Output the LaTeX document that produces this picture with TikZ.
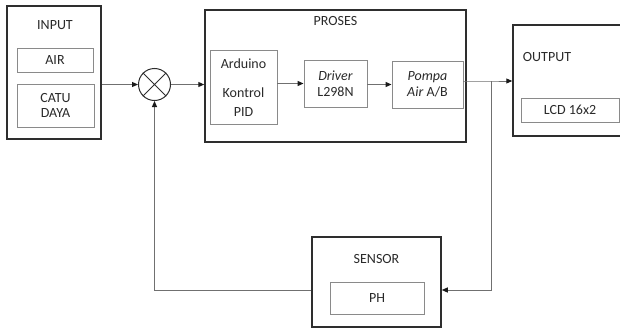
\documentclass[tikz,border=0pt]{standalone}
\usepackage{fontspec}
\setmainfont{Carlito}
\usetikzlibrary{arrows.meta}
\definecolor{txt}{HTML}{2A2A2A}
\definecolor{outerc}{HTML}{2E2E2E}
\definecolor{innerc}{HTML}{8A8A8A}
\definecolor{linec}{HTML}{707070}
\definecolor{tipc}{HTML}{1A1A1A}
\tikzset{
  x=1pt, y=-1pt,
  every node/.style={font=\fontsize{14}{16.5}\selectfont, text=txt},
  outerbox/.style={draw=outerc, line width=1.5pt, inner sep=0pt},
  innerbox/.style={draw=innerc, line width=0.9pt, inner sep=0pt, align=center},
  conn/.style={draw=linec, line width=1pt},
  arr/.style={conn, -{Triangle[length=6pt,width=5pt,color=tipc]}},
}
\begin{document}
\begin{tikzpicture}
\useasboundingbox (0,0) rectangle (620,329);
\fill[white] (0,0) rectangle (620,329);

% input block
\node[outerbox, minimum width=94pt, minimum height=133pt] (input) at (54,72.5) {};
\node (inputlbl) at (55,25) {INPUT};
\node[innerbox, minimum width=76pt, minimum height=24pt] (air) at (55,60) {AIR};
\node[innerbox, minimum width=77pt, minimum height=43pt] (catu) at (55.5,105.5) {CATU\\[-1pt]DAYA};

% summing junction
\node[draw=outerc, line width=1pt, circle, minimum size=32pt, inner sep=0pt] (sum) at (154.5,84.5) {};
\draw[outerc, line width=1pt] (sum.north west) -- (sum.south east)
                              (sum.north east) -- (sum.south west);

% process block
\node[outerbox, minimum width=261pt, minimum height=132pt] (proses) at (335.5,76) {};
\node (proseslbl) at (335.5,21) {PROSES};
\node[innerbox, minimum width=67pt, minimum height=74pt] (ard) at (243.5,87) {};
\node (ard1) at (243.5,64) {Arduino};
\node (ard2) at (243.5,93) {Kontrol};
\node (ard3) at (243.5,112) {PID};
\node[innerbox, minimum width=63pt, minimum height=47pt] (drv) at (335.5,83.5) {\textit{Driver}\\[-1pt]L298N};
\node[innerbox, minimum width=71pt, minimum height=47pt] (pompa) at (427.5,84.5) {\textit{Pompa}\\[-1pt]\textit{Air} A/B};

% output block
\node[outerbox, minimum width=108pt, minimum height=111pt] (output) at (567,80.5) {};
\node (outputlbl) at (547,57) {OUTPUT};
\node[innerbox, minimum width=98pt, minimum height=24pt] (lcd) at (570,110) {LCD 16x2};

% sensor block
\node[outerbox, minimum width=129pt, minimum height=90pt] (sensor) at (376.5,282) {};
\node (sensorlbl) at (376.5,259) {SENSOR};
\node[innerbox, minimum width=94pt, minimum height=32pt] (ph) at (377,298) {PH};

% forward path
\draw[arr] (sum.west -| input.east) -- (sum.west);
\draw[arr] (sum.east) -- (sum.east -| proses.west);
\draw[arr] (ard.east |- drv.west) -- (drv.west);
\draw[arr] (drv.east |- pompa.west) -- (pompa.west);
\coordinate (tap) at (491,81);
\draw[arr] (pompa.east |- tap) -- (tap) -- (tap -| output.west);

% feedback path
\coordinate (fbr) at (491,290);
\coordinate (fbl) at (sum.south |- fbr);
\draw[arr] (tap) -- (fbr) -- (fbr -| sensor.east);
\draw[arr] (sensor.west |- fbr) -- (fbl) -- (sum.south);
\end{tikzpicture}
\end{document}
